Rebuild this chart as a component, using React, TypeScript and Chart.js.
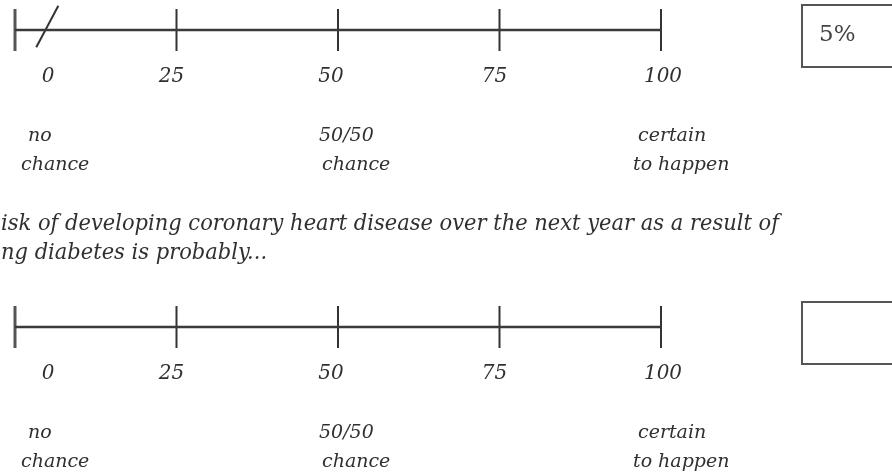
import React, { useEffect, useRef } from "react";
import { Chart, registerables } from "chart.js";
Chart.register(...registerables);

// ---- data ----
const TICK_VALUES = [0, 25, 50, 75, 100];
const TICK_LABELS = ["0", "25", "50", "75", "100"];
const ANCHOR_VALUES = [0, 50, 100];
const ANCHOR_LINES = [
  ["no", "chance"],
  ["50/50", "chance"],
  ["certain", "to happen"],
];
const QUESTION_LINES = [
  "isk of developing coronary heart disease over the next year as a result of",
  "ng diabetes is probably...",
];
const RESPONSES = ["5%", ""];
const MARK_VALUES: (number | null)[] = [5, null];

// ---- layout ----
const W = 892;
const H = 472;
const ZERO_PX = 15;
const HUNDRED_PX = 661;
const SCALE_ROWS = [30, 327];
const TICK_HALF = 21;
const TICK_LABEL_DX = [33, -5, -7, -5, 2];
const TICK_LABEL_DY = 52;
const ANCHOR_LEFT_DX = [
  [13, 6],
  [-19, -16],
  [-23, -28],
];
const ANCHOR_DY = [111, 140];
const QUESTION_X = 1;
const QUESTION_BASELINES = [230, 259];
const QUESTION_WIDTH = 778;
const BOX_X = 802;
const BOX_W = 140;
const BOX_H = 62;
const BOX_DY = -25;
const RESP_X = 819;
const RESP_DY = 11;
const MARK_DY = -3.5;
const INK = "#303030";
const SERIF = '"DejaVu Serif", "Liberation Serif", serif';
const TEXT_FONT = "italic 19px " + SERIF;
const TICK_FONT = "italic 20px " + SERIF;
const QUESTION_FONT = "italic 22px " + SERIF;
const RESP_FONT = "23px " + SERIF;

const unit = (HUNDRED_PX - ZERO_PX) / 100;
const X_MIN = -ZERO_PX / unit;
const X_MAX = (W - ZERO_PX) / unit;

const textPlugin = {
  id: "questionnaireText",
  afterDraw(chart: any) {
    const ctx = chart.ctx as CanvasRenderingContext2D;
    const xs = chart.scales.x;
    const ys = chart.scales.y;
    ctx.save();
    ctx.fillStyle = INK;
    ctx.textBaseline = "alphabetic";

    SCALE_ROWS.forEach((row, r) => {
      const rowPx = ys.getPixelForValue(row);
      // tick labels
      ctx.font = TICK_FONT;
      ctx.textAlign = "center";
      TICK_VALUES.forEach((v, i) => {
        ctx.fillText(TICK_LABELS[i], xs.getPixelForValue(v) + TICK_LABEL_DX[i], rowPx + TICK_LABEL_DY);
      });
      // anchor labels
      ctx.font = TEXT_FONT;
      ctx.textAlign = "left";
      ANCHOR_VALUES.forEach((v, i) => {
        ANCHOR_LINES[i].forEach((line, j) => {
          ctx.fillText(line, xs.getPixelForValue(v) + ANCHOR_LEFT_DX[i][j], rowPx + ANCHOR_DY[j]);
        });
      });
      // response box
      ctx.strokeStyle = "#555";
      ctx.lineWidth = 2;
      ctx.strokeRect(BOX_X, rowPx + BOX_DY, BOX_W, BOX_H);
      if (RESPONSES[r]) {
        ctx.font = RESP_FONT;
        ctx.fillStyle = "#444";
        ctx.fillText(RESPONSES[r], RESP_X, rowPx + RESP_DY);
        ctx.fillStyle = INK;
      }
    });

    // question text
    ctx.font = QUESTION_FONT;
    ctx.textAlign = "left";
    const sx = QUESTION_WIDTH / ctx.measureText(QUESTION_LINES[0]).width;
    QUESTION_LINES.forEach((line, i) => {
      ctx.save();
      ctx.translate(QUESTION_X, ys.getPixelForValue(QUESTION_BASELINES[i]));
      ctx.scale(sx, 1);
      ctx.fillText(line, 0, 0);
      ctx.restore();
    });
    ctx.restore();
  },
};

export default function App() {
  const ref = useRef<HTMLCanvasElement | null>(null);
  useEffect(() => {
    if (!ref.current) return;
    const datasets: any[] = [];
    SCALE_ROWS.forEach((row, r) => {
      datasets.push({
        type: "line",
        data: [
          { x: TICK_VALUES[0], y: row },
          { x: TICK_VALUES[TICK_VALUES.length - 1], y: row },
        ],
        borderColor: "#3a3a3a",
        borderWidth: 2.5,
        pointRadius: 0,
        fill: false,
        clip: false,
      });
      datasets.push({
        type: "scatter",
        data: TICK_VALUES.map((v) => ({ x: v, y: row })),
        pointStyle: "line",
        pointRotation: 90,
        pointRadius: TICK_HALF,
        pointBorderWidth: TICK_VALUES.map((_, i) => (i === 0 ? 3 : 2)),
        pointBorderColor: TICK_VALUES.map((_, i) => (i === 0 ? "#555" : "#333")),
        showLine: false,
        clip: false,
      });
      const m = MARK_VALUES[r];
      if (m !== null) {
        datasets.push({
          type: "scatter",
          data: [{ x: m, y: row + MARK_DY }],
          pointStyle: "line",
          pointRotation: -62,
          pointRadius: 23.5,
          pointBorderWidth: 2,
          pointBorderColor: "#333",
          showLine: false,
          clip: false,
        });
      }
    });

    const chart = new Chart(ref.current, {
      type: "scatter",
      data: { datasets },
      options: {
        responsive: false,
        animation: false,
        events: [],
        devicePixelRatio: 1,
        layout: { padding: 0, autoPadding: false },
        plugins: { legend: { display: false }, tooltip: { enabled: false } },
        scales: {
          x: { type: "linear", min: X_MIN, max: X_MAX, display: false },
          y: { type: "linear", min: 0, max: H, reverse: true, display: false },
        },
      },
      plugins: [textPlugin],
    } as any);

    let alive = true;
    const fonts = (document as any).fonts;
    if (fonts && fonts.load) {
      Promise.all([TEXT_FONT, TICK_FONT, QUESTION_FONT, RESP_FONT].map((f) => fonts.load(f, "chance 0125%")))
        .catch(() => null)
        .then(() => {
          if (alive) chart.draw();
        });
    }
    return () => {
      alive = false;
      chart.destroy();
    };
  }, []);

  return (
    <div style={{ position: "absolute", left: 0, top: 0, width: W, height: H, background: "#fff" }}>
      <canvas ref={ref} width={W} height={H} style={{ display: "block", width: W, height: H }} />
    </div>
  );
}
